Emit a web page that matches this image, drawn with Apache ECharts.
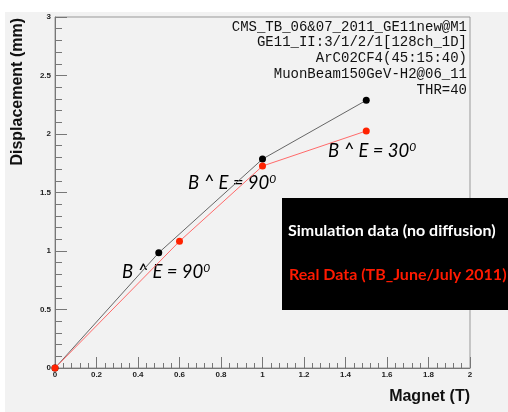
<!DOCTYPE html>
<html><head><meta charset="utf-8">
<script src="https://cdn.jsdelivr.net/npm/echarts@6/dist/echarts.min.js"></script>
<style>
html,body{margin:0;padding:0;background:#fff;}
#bg{position:absolute;left:5px;top:12px;width:503px;height:400px;background:#f2f2f2;}
#c{position:absolute;left:0;top:0;width:508px;height:412px;}
</style></head><body>
<div id="bg"></div>
<div id="c"></div>
<script>
// Data
const simB = [0, 0.5, 1.0, 1.5];
const simD = [0, 0.985, 1.786, 2.288];
const realB = [0, 0.6, 1.0, 1.5];
const realD = [0, 1.083, 1.726, 2.026];
const infoLines = ['CMS_TB_06&07_2011_GE11new@M1','GE11_II:3/1/2/1[128ch_1D]','ArC02CF4(45:15:40)','MuonBeam150GeV-H2@06_11','THR=40'];
const legendSim = 'Simulation data (no diffusion)';
const legendReal = 'Real Data (TB_June/July 2011)';
const xName = 'Magnet (T)';
const yName = 'Displacement (mm)';
const annots = ['B ^ E = 90', 'B ^ E = 90', 'B ^ E = 30'];

const chart = echarts.init(document.getElementById('c'));
const tickLbl = {fontSize: 8, fontWeight: 'bold', color: '#222', fontFamily: 'Liberation Sans'};
const annStyle = (t) => ({
  text: '{a|' + t + '}{s|0}',
  rich: {
    a: {fontFamily: 'Lato', fontStyle: 'italic', fontSize: 18.5, color: '#111'},
    s: {fontFamily: 'Lato', fontStyle: 'italic', fontSize: 12, color: '#111', padding: [0, 0, 9, 0]}
  }
});
const graphics = [];
infoLines.forEach((t, i) => graphics.push({
  type: 'text', right: 41, top: 20 + i * 15.7,
  style: {text: t, font: '14px "Liberation Mono"', fill: '#111', textAlign: 'right'}
}));
graphics.push({type: 'text', left: 188, top: 173, style: annStyle(annots[0])});
graphics.push({type: 'text', left: 122, top: 262, style: annStyle(annots[1])});
graphics.push({type: 'text', left: 328, top: 141, style: annStyle(annots[2])});
graphics.push({type: 'rect', shape: {x: 282, y: 198, width: 226, height: 112}, style: {fill: '#000'}, z: 100});
graphics.push({type: 'text', left: 288, top: 223, z: 101, style: {text: legendSim, font: 'bold 16px Lato', fill: '#fff'}});
graphics.push({type: 'text', left: 289, top: 267, z: 101, style: {text: legendReal, font: 'bold 16px Lato', fill: '#ff1a00'}});
graphics.push({type: 'text', left: 10, top: 18, rotation: Math.PI / 2, originX: 0, originY: 0,
  style: {text: yName, font: 'bold 16px "Liberation Sans"', fill: '#111'}});
graphics.push({type: 'text', right: 38, top: 389, style: {text: xName, font: 'bold 16px "Liberation Sans"', fill: '#111', textAlign: 'right'}});

chart.setOption({
  animation: false,
  backgroundColor: 'transparent',
  grid: {left: 55, right: 38, top: 17, bottom: 44, show: true, borderColor: '#999', borderWidth: 1, backgroundColor: 'transparent'},
  xAxis: {
    type: 'value', min: 0, max: 2, interval: 0.2,
    axisLine: {lineStyle: {color: '#777', width: 1}},
    axisTick: {inside: true, length: 11, lineStyle: {color: '#777'}},
    minorTick: {show: true, splitNumber: 5, length: 5, lineStyle: {color: '#777'}},
    splitLine: {show: false},
    axisLabel: Object.assign({margin: 3, formatter: v => String(+v.toFixed(1))}, tickLbl)
  },
  yAxis: {
    type: 'value', min: 0, max: 3, interval: 0.5,
    axisLine: {show: true, lineStyle: {color: '#777', width: 1}},
    axisTick: {show: true, inside: true, length: 12, lineStyle: {color: '#777'}},
    minorTick: {show: true, splitNumber: 5, length: 7, lineStyle: {color: '#777'}},
    splitLine: {show: false},
    axisLabel: Object.assign({margin: 4, formatter: v => String(+v.toFixed(1))}, tickLbl)
  },
  series: [
    {type: 'line', data: simB.map((b, i) => [b, simD[i]]), symbol: 'circle', symbolSize: 7,
     lineStyle: {color: '#666', width: 1}, itemStyle: {color: '#000'}, z: 3},
    {type: 'line', data: realB.map((b, i) => [b, realD[i]]), symbol: 'circle', symbolSize: 7,
     lineStyle: {color: '#ff6a6a', width: 1}, itemStyle: {color: '#ff2200'}, z: 4}
  ],
  graphic: graphics
});
</script>
</body></html>
